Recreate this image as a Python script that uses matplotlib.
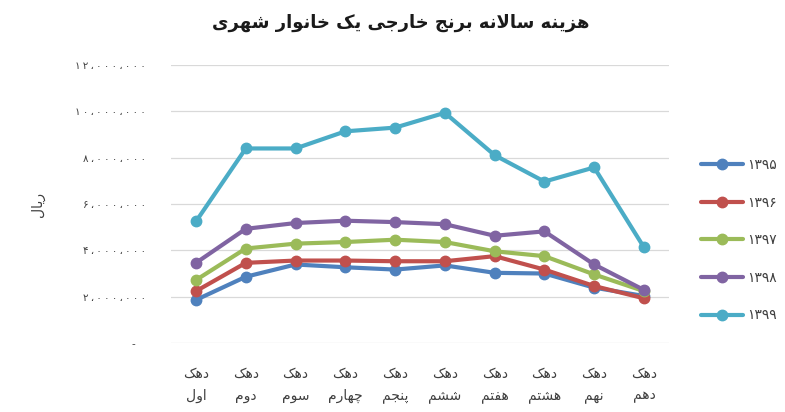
import matplotlib
matplotlib.use("Agg")
import matplotlib.pyplot as plt
import numpy as np

# --- data (rials) ---
dahak = ["اول", "دوم", "سوم", "چهارم", "پنجم", "ششم", "هفتم", "هشتم", "نهم", "دهم"]
years = ["۱۳۹۵", "۱۳۹۶", "۱۳۹۷", "۱۳۹۸", "۱۳۹۹"]
v1395 = [1.86, 2.86, 3.39, 3.27, 3.17, 3.35, 3.03, 3.00, 2.39, 2.03]
v1396 = [2.24, 3.46, 3.56, 3.56, 3.53, 3.53, 3.75, 3.17, 2.46, 1.93]
v1397 = [2.72, 4.08, 4.29, 4.36, 4.46, 4.36, 3.96, 3.75, 2.96, 2.24]
v1398 = [3.46, 4.93, 5.18, 5.28, 5.22, 5.13, 4.63, 4.82, 3.39, 2.29]
v1399 = [5.25, 8.40, 8.40, 9.14, 9.30, 9.94, 8.11, 6.97, 7.58, 4.13]
y_ticks = [0, 2e6, 4e6, 6e6, 8e6, 10e6, 12e6]
y_ticklabels = ["-", "۲،۰۰۰،۰۰۰", "۴،۰۰۰،۰۰۰", "۶،۰۰۰،۰۰۰",
                "۸،۰۰۰،۰۰۰", "۱۰،۰۰۰،۰۰۰", "۱۲،۰۰۰،۰۰۰"]
colors = ["#4F81BD", "#C0504D", "#9BBB59", "#8064A2", "#4BACC6"]

# minimal arabic shaping (matplotlib has no text shaping)
FORMS = {
    "ا": ("\uFE8D", "\uFE8E", None, None),
    "ب": ("\uFE8F", "\uFE90", "\uFE91", "\uFE92"),
    "پ": ("\uFB56", "\uFB57", "\uFB58", "\uFB59"),
    "ت": ("\uFE95", "\uFE96", "\uFE97", "\uFE98"),
    "ج": ("\uFE9D", "\uFE9E", "\uFE9F", "\uFEA0"),
    "چ": ("\uFB7A", "\uFB7B", "\uFB7C", "\uFB7D"),
    "خ": ("\uFEA5", "\uFEA6", "\uFEA7", "\uFEA8"),
    "د": ("\uFEA9", "\uFEAA", None, None),
    "ر": ("\uFEAD", "\uFEAE", None, None),
    "ز": ("\uFEAF", "\uFEB0", None, None),
    "س": ("\uFEB1", "\uFEB2", "\uFEB3", "\uFEB4"),
    "ش": ("\uFEB5", "\uFEB6", "\uFEB7", "\uFEB8"),
    "ف": ("\uFED1", "\uFED2", "\uFED3", "\uFED4"),
    "ک": ("\uFB8E", "\uFB8F", "\uFB90", "\uFB91"),
    "ل": ("\uFEDD", "\uFEDE", "\uFEDF", "\uFEE0"),
    "م": ("\uFEE1", "\uFEE2", "\uFEE3", "\uFEE4"),
    "ن": ("\uFEE5", "\uFEE6", "\uFEE7", "\uFEE8"),
    "ه": ("\uFEE9", "\uFEEA", "\uFEEB", "\uFEEC"),
    "و": ("\uFEED", "\uFEEE", None, None),
    "ی": ("\uFBFC", "\uFBFD", "\uFBFE", "\uFBFF"),
}


def fa(text):
    out = []
    i = 0
    n = len(text)
    while i < n:
        ch = text[i]
        if ch not in FORMS:
            out.append(ch)
            i += 1
            continue
        prev = text[i - 1] if i > 0 else ""
        joins_prev = prev in FORMS and FORMS[prev][2] is not None
        if ch == "ل" and i + 1 < n and text[i + 1] == "ا":
            out.append("\uFEFC" if joins_prev else "\uFEFB")
            i += 2
            continue
        nxt = text[i + 1] if i + 1 < n else ""
        joins_next = nxt in FORMS and FORMS[ch][2] is not None
        iso, fin, ini, med = FORMS[ch]
        if joins_prev and joins_next:
            out.append(med)
        elif joins_prev:
            out.append(fin)
        elif joins_next:
            out.append(ini)
        else:
            out.append(iso)
        i += 1
    return "".join(out[::-1])


plt.rcParams["font.family"] = ["DejaVu Sans"]

fig = plt.figure(figsize=(7.85, 4.12), dpi=100)
ax = fig.add_axes([0.218, 0.1675, 0.634, 0.6745])

x = np.arange(len(dahak))
series = [v1395, v1396, v1397, v1398, v1399]
for vals, yr, c in zip(series, years, colors):
    ax.plot(x, np.array(vals) * 1e6, color=c, lw=3, marker="o", ms=7.5,
            label=yr, solid_capstyle="round")

ax.set_xlim(-0.5, len(dahak) - 0.5)
ax.set_ylim(0, 12e6)
ax.set_yticks(y_ticks)
# spaced digits like the source
ax.set_yticklabels(["-" + "\u2009" * 5 if t == "-" else "\u2009".join(t)
                    for t in y_ticklabels],
                   fontsize=7.5, color="#404040")
ax.set_xticks(x)
ax.set_xticklabels([fa("دهک") + "\n" + fa(d) for d in dahak], fontsize=10,
                   color="#404040", linespacing=1.7)
ax.tick_params(length=0)
ax.tick_params(axis="y", pad=18)
ax.tick_params(axis="x", pad=17)
ax.grid(axis="y", color="#D9D9D9", lw=0.9)
ax.set_axisbelow(True)
for s in ax.spines.values():
    s.set_visible(False)

ax.set_ylabel(fa("ریال"), fontsize=10, color="#404040", labelpad=22)

fig.text(0.51, 0.945, fa("هزینه سالانه برنج خارجی یک خانوار شهری"),
         ha="center", va="center", fontsize=13, fontweight="bold",
         color="#1a1a1a")

leg = ax.legend(loc="center left", bbox_to_anchor=(1.04, 0.37), frameon=False,
                fontsize=10, handlelength=3.0, labelspacing=1.7,
                handletextpad=0.3, labelcolor="#404040")

fig.savefig("out.png", dpi=100, facecolor="white")
